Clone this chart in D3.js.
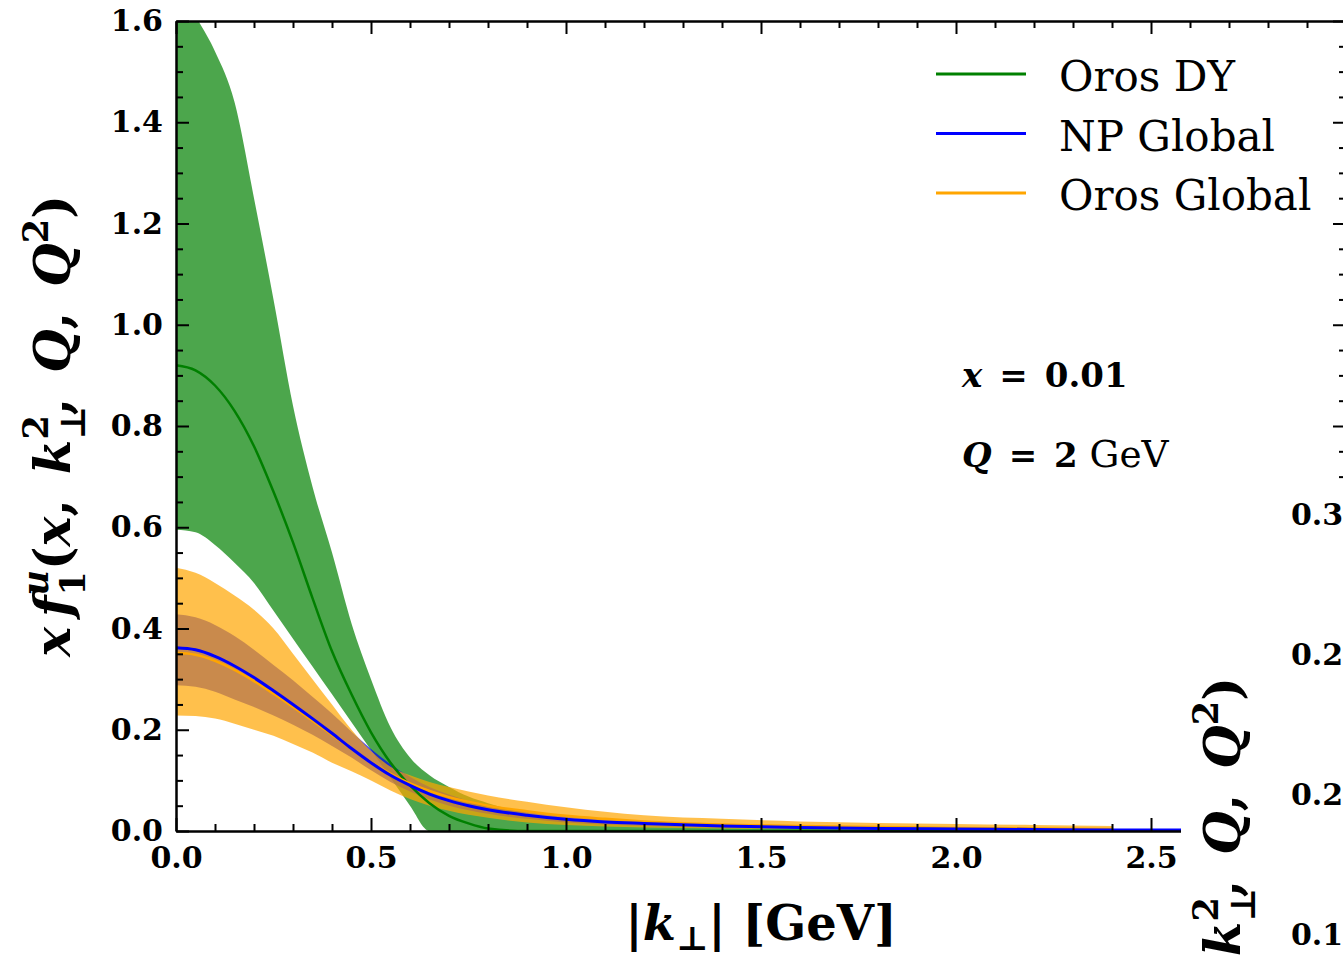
<!DOCTYPE html>
<html>
<head>
<meta charset="utf-8">
<script src="https://cdn.jsdelivr.net/npm/d3@7"></script>
<style>
body{margin:0;background:#fff;}
svg{display:block;}
</style>
</head>
<body>
<div id="window"></div>
<script>
const W = 1343, H = 957;

// k grid (GeV) shared by the bands and central lines
const kGrid = [0,0.05,0.1,0.15,0.2,0.25,0.3,0.35,0.4,0.45,0.5,0.55,0.6,0.65,0.7,0.75,0.8,0.9,1.0,1.1,1.2,1.4,1.6,1.8,2.0,2.2,2.4];
// NP Global line keeps going to the right edge
const kTail = [2.6,2.8,3.0];

// Oros DY
const dyMid = [0.92,0.91,0.88,0.83,0.76,0.67,0.57,0.46,0.355,0.27,0.195,0.135,0.09,0.055,0.03,0.015,0.005,0,0,0,0,0,0,0,0,0,0];
const dyLo  = [0.595,0.59,0.565,0.53,0.49,0.435,0.38,0.325,0.27,0.215,0.16,0.105,0.05,0,0,0,0,0,0,0,0,0,0,0,0,0,0];
const dyHi  = [1.68,1.61,1.54,1.44,1.25,1.05,0.84,0.68,0.55,0.41,0.3,0.205,0.145,0.11,0.087,0.068,0.055,0.035,0.022,0.016,0.012,0.009,0.008,0.007,0.008,0.006,0.005];

// NP Global
const npMid = [0.362,0.358,0.345,0.326,0.303,0.277,0.25,0.222,0.193,0.163,0.135,0.11,0.09,0.073,0.06,0.05,0.042,0.031,0.023,0.018,0.015,0.01,0.007,0.005,0.004,0.003,0.002,0.002,0.001,0.001];
const npLo  = [0.288,0.285,0.275,0.26,0.245,0.228,0.21,0.19,0.168,0.145,0.12,0.097,0.078,0.062,0.05,0.041,0.034,0.024,0.017,0.013,0.01,0.007,0.005,0.004,0.003,0.002,0.002];
const npHi  = [0.428,0.422,0.407,0.385,0.358,0.328,0.298,0.265,0.232,0.196,0.162,0.132,0.107,0.087,0.072,0.06,0.051,0.039,0.03,0.024,0.02,0.014,0.01,0.008,0.006,0.005,0.004];

// Oros Global
const ogMid = [0.352,0.348,0.336,0.318,0.296,0.271,0.245,0.218,0.19,0.162,0.136,0.113,0.094,0.079,0.067,0.058,0.05,0.039,0.03,0.024,0.019,0.013,0.01,0.008,0.006,0.005,0.004];
const ogLo  = [0.228,0.227,0.222,0.212,0.2,0.188,0.172,0.155,0.135,0.118,0.1,0.08,0.063,0.05,0.04,0.032,0.026,0.017,0.012,0.009,0.007,0.005,0.004,0.003,0.002,0.002,0.002];
const ogHi  = [0.52,0.51,0.49,0.465,0.437,0.4,0.35,0.3,0.25,0.2,0.158,0.127,0.11,0.097,0.087,0.078,0.07,0.058,0.047,0.038,0.031,0.024,0.019,0.016,0.014,0.012,0.01];

const legendNames = ['Oros DY','NP Global','Oros Global'];
const legendColors = ['#008000','#0000ff','#ffa500'];

const xMajor = [0,0.5,1.0,1.5,2.0,2.5,3.0];
const xLabelled = [0,0.5,1.0,1.5,2.0,2.5];
const yMajor = [0,0.2,0.4,0.6,0.8,1.0,1.2,1.4,1.6];
// neighbouring panel (only its tick labels peek in on the right)
const rightTicks = [0.15,0.2,0.25,0.3];

const FONT = 'DejaVu Serif';

const svg = d3.select('#window').append('svg').attr('width', W).attr('height', H);

const x = d3.scaleLinear().domain([0,3]).range([176,1346]);
const y = d3.scaleLinear().domain([0,1.6]).range([831,21]);

svg.append('clipPath').attr('id','plotclip').append('rect')
  .attr('x', x(0)).attr('y', y(1.6)).attr('width', x(3)-x(0)).attr('height', y(0)-y(1.6));

const plot = svg.append('g').attr('clip-path','url(#plotclip)');

function band(lo, hi, color){
  const pts = kGrid.map((k,i)=>({k, lo: lo[i], hi: hi[i]}));
  plot.append('path').datum(pts)
    .attr('fill', color).attr('stroke','none')
    .attr('d', d3.area().x(d=>x(d.k)).y0(d=>y(d.lo)).y1(d=>y(d.hi)).curve(d3.curveMonotoneX));
}
function line(ks, vals, color, w){
  plot.append('path').datum(ks.map((k,i)=>[k, vals[i]]))
    .attr('fill','none').attr('stroke', color).attr('stroke-width', w)
    .attr('d', d3.line().x(d=>x(d[0])).y(d=>y(d[1])).curve(d3.curveMonotoneX));
}

band(dyLo, dyHi, 'rgba(0,128,0,0.7)');
band(npLo, npHi, 'rgba(0,0,255,0.7)');
band(ogLo, ogHi, 'rgba(255,165,0,0.7)');
line(kGrid, dyMid, '#008000', 2.5);
line(kGrid, ogMid, '#ffa500', 2.5);
line(kGrid.concat(kTail), npMid, '#0000ff', 3);

// axes, ticks pointing inward
const xMinor = d3.range(0, 3.0001, 0.1).filter(v => Math.abs(v*2 - Math.round(v*2)) > 1e-6);
const yMinor = d3.range(0, 1.6001, 0.05).filter(v => Math.abs(v*5 - Math.round(v*5)) > 1e-6);

function styleAxis(g){
  g.selectAll('path, line').attr('stroke','#000').attr('stroke-width', 2);
  g.selectAll('text').attr('font-family', FONT).attr('font-weight','bold').attr('font-size', 30).attr('fill','#000');
}

svg.append('g').attr('transform', `translate(0,${y(0)})`)
  .call(d3.axisBottom(x).tickValues(xLabelled).tickSize(-13).tickSizeOuter(0).tickPadding(16).tickFormat(d3.format('.1f')))
  .call(styleAxis);
svg.append('g').attr('transform', `translate(0,${y(0)})`)
  .call(d3.axisBottom(x).tickValues(xMinor).tickSize(-7).tickSizeOuter(0).tickFormat('')).call(styleAxis);

svg.append('g').attr('transform', `translate(0,${y(1.6)})`)
  .call(d3.axisTop(x).tickValues(xMajor).tickSize(-13).tickSizeOuter(0).tickFormat('')).call(styleAxis);
svg.append('g').attr('transform', `translate(0,${y(1.6)})`)
  .call(d3.axisTop(x).tickValues(xMinor).tickSize(-7).tickSizeOuter(0).tickFormat('')).call(styleAxis);

svg.append('g').attr('transform', `translate(${x(0)},0)`)
  .call(d3.axisLeft(y).tickValues(yMajor).tickSize(-13).tickSizeOuter(0).tickPadding(13).tickFormat(d3.format('.1f'))).call(styleAxis);
svg.append('g').attr('transform', `translate(${x(0)},0)`)
  .call(d3.axisLeft(y).tickValues(yMinor).tickSize(-7).tickSizeOuter(0).tickFormat('')).call(styleAxis);

svg.append('g').attr('transform', `translate(${x(3)},0)`)
  .call(d3.axisRight(y).tickValues(yMajor).tickSize(-13).tickSizeOuter(0).tickFormat('')).call(styleAxis);
svg.append('g').attr('transform', `translate(${x(3)},0)`)
  .call(d3.axisRight(y).tickValues(yMinor).tickSize(-7).tickSizeOuter(0).tickFormat('')).call(styleAxis);

// math-ish label built from tspans
function mathLabel(sel, parts, size){
  const text = sel.append('text').attr('font-family', FONT).attr('font-weight','bold')
    .attr('font-size', size).attr('fill','#000');
  let shift = 0, lastW = 0;
  parts.forEach(p => {
    const s = p.s || 1;
    const ts = text.append('tspan').text(p.t).attr('font-size', size*s);
    if (p.it) ts.attr('font-style','italic');
    if (p.n) ts.attr('font-weight','normal');
    const target = (p.dy || 0) * size;
    ts.attr('dy', target - shift);
    shift = target;
    if (p.stack) ts.attr('dx', -lastW);
    lastW = ts.node().getComputedTextLength();
  });
  return text;
}

const sp = '\u2002';
const yLabelParts = [
  {t:'x', it:1}, {t:'\u2009'}, {t:'f', it:1}, {t:'1', s:0.7, dy:0.3}, {t:'u', it:1, s:0.7, dy:-0.45, stack:1},
  {t:'(', dy:0}, {t:'x', it:1}, {t:','+sp}, {t:'k', it:1}, {t:'\u22a5', s:0.7, dy:0.3}, {t:'2', s:0.7, dy:-0.45, stack:1},
  {t:','+sp, dy:0}, {t:'Q', it:1}, {t:','+sp}, {t:'Q', it:1}, {t:'2', s:0.7, dy:-0.45}, {t:')', dy:0}
];

mathLabel(svg.append('g').attr('transform', `translate(70,${(y(0)+y(1.6))/2}) rotate(-90)`), yLabelParts, 50)
  .attr('text-anchor','middle');

mathLabel(svg.append('g').attr('transform', `translate(${(x(0)+x(3))/2},940)`), [
  {t:'|'}, {t:'k', it:1}, {t:'\u22a5', s:0.7, dy:0.2}, {t:'|', dy:0}, {t:' [GeV]'}
], 48).attr('text-anchor','middle');

// annotations
mathLabel(svg.append('g').attr('transform', 'translate(962,387)'), [
  {t:'x', it:1}, {t:sp+'='+sp+'0.01'}
], 34);
mathLabel(svg.append('g').attr('transform', 'translate(962,467)'), [
  {t:'Q', it:1}, {t:sp+'='+sp+'2 '}, {t:'GeV', n:1, s:1.1}
], 34);

// legend
const leg = svg.append('g');
legendNames.forEach((name, i) => {
  const ly = 74 + i*59.5;
  leg.append('line').attr('x1', 936).attr('x2', 1026).attr('y1', ly).attr('y2', ly)
    .attr('stroke', legendColors[i]).attr('stroke-width', 3);
  leg.append('text').attr('x', 1059).attr('y', ly + 17).text(name)
    .attr('font-family', FONT).attr('font-size', 42).attr('fill','#000');
});

// neighbouring panel overlapping the lower right corner
svg.append('rect').attr('x', 1181).attr('y', 488).attr('width', W-1181).attr('height', H-488).attr('fill','#fff');

const yR = d3.scaleLinear().domain([0.15,0.3]).range([935,515]);
svg.append('g').attr('transform', 'translate(1372,0)')
  .call(d3.axisLeft(yR).tickValues(rightTicks).tickSize(-10).tickSizeOuter(0).tickPadding(8).tickFormat(d3.format('.2f')))
  .call(styleAxis);

mathLabel(svg.append('g').attr('transform', 'translate(1240,908) rotate(-90)'), yLabelParts, 50)
  .attr('text-anchor','middle');
</script>
</body>
</html>
